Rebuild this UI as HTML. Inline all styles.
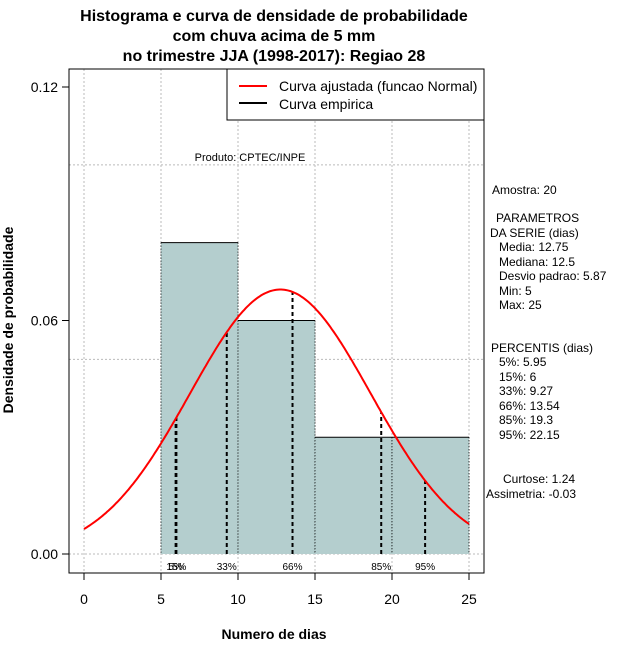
<!DOCTYPE html>
<html><head><meta charset="utf-8"><style>
body{margin:0;background:#fff;}
svg text{font-family:"Liberation Sans",sans-serif;}
</style></head><body>
<svg id="chart" width="640" height="660" xmlns="http://www.w3.org/2000/svg">
<text x="274" y="21" text-anchor="middle" font-size="16" font-weight="bold">Histograma e curva de densidade de probabilidade</text>
<text x="274" y="41" text-anchor="middle" font-size="16" font-weight="bold">com chuva acima de 5 mm</text>
<text x="274" y="61" text-anchor="middle" font-size="16" font-weight="bold">no trimestre JJA (1998-2017): Regiao 28</text>
<g id="grid"></g>
<g id="bars"></g>
<g id="pct"></g>
<g id="curve"></g>
<rect x="69" y="69" width="415" height="504" fill="none" stroke="#000"/>
<g id="axes"></g>
<text x="250" y="161" text-anchor="middle" font-size="11">Produto: CPTEC/INPE</text>
<g>
<rect x="227" y="69" width="257" height="51" fill="#fff" stroke="#000"/>
<line x1="239" y1="86" x2="267" y2="86" stroke="red" stroke-width="2"/>
<text x="279" y="91" font-size="14">Curva ajustada (funcao Normal)</text>
<line x1="239" y1="103" x2="267" y2="103" stroke="#000" stroke-width="2"/>
<text x="279" y="109" font-size="14">Curva empirica</text>
</g>
<text x="274" y="639" text-anchor="middle" font-size="14" font-weight="bold">Numero de dias</text>
<text transform="translate(13,320) rotate(-90)" text-anchor="middle" font-size="14" font-weight="bold">Densidade de probabilidade</text>
<g font-size="12">
<text x="492" y="194">Amostra: 20</text>
<text x="496" y="222">PARAMETROS</text>
<text x="490" y="237">DA SERIE (dias)</text>
<text x="499" y="251">Media: 12.75</text>
<text x="499" y="266">Mediana: 12.5</text>
<text x="499" y="280">Desvio padrao: 5.87</text>
<text x="499" y="295">Min: 5</text>
<text x="499" y="309">Max: 25</text>
<text x="491" y="352">PERCENTIS (dias)</text>
<text x="499" y="366">5%: 5.95</text>
<text x="499" y="381">15%: 6</text>
<text x="499" y="395">33%: 9.27</text>
<text x="499" y="410">66%: 13.54</text>
<text x="499" y="424">85%: 19.3</text>
<text x="499" y="439">95%: 22.15</text>
<text x="503" y="483">Curtose: 1.24</text>
<text x="486" y="498">Assimetria: -0.03</text>
</g>
</svg>
<script>
const binEdges=[5,10,15,20,25];
const binDensity=[0.08,0.06,0.03,0.03];
const pctLabels=["5%","15%","33%","66%","85%","95%"];
const pctValues=[5.95,6,9.27,13.54,19.3,22.15];
const xTicks=[0,5,10,15,20,25];
const yTicks=[0,0.06,0.12];
const yTickLabels=["0.00","0.06","0.12"];
const yGrid=[0,0.05,0.1];
const mean=12.75, sd=5.87;
const NS="http://www.w3.org/2000/svg";
const X=v=>84+v*(469-84)/25;
const Y=v=>554-v*(554-87)/0.12;
function mk(t,a,p){const e=document.createElementNS(NS,t);for(const k in a)e.setAttribute(k,a[k]);p.appendChild(e);return e;}
const dn=x=>Math.exp(-0.5*((x-mean)/sd)**2)/(sd*Math.sqrt(2*Math.PI));
const g=document.getElementById('grid');
xTicks.forEach(t=>{const l=mk('line',{x1:X(t),x2:X(t),y1:69,y2:573,stroke:'#bbb','stroke-dasharray':'2,2'},g);

});
yGrid.forEach(t=>{const l=mk('line',{x1:69,x2:484,y1:Y(t),y2:Y(t),stroke:'#bbb','stroke-dasharray':'2,2'},g);

});
const b=document.getElementById('bars');
binDensity.forEach((d,i)=>{const x0=X(binEdges[i]),x1=X(binEdges[i+1]),y=Y(d);
const r=mk('rect',{x:x0,y:y,width:x1-x0,height:Y(0)-y,fill:'#b4cece'},b);


mk('line',{x1:x0,x2:x1,y1:y,y2:y,stroke:'#000'},b);
mk('line',{x1:x0,x2:x0,y1:y,y2:Y(0),stroke:'#000','stroke-dasharray':'1,2'},b);
mk('line',{x1:x1,x2:x1,y1:y,y2:Y(0),stroke:'#000','stroke-dasharray':'1,2'},b);});
const p=document.getElementById('pct');
pctValues.forEach((v,i)=>{const l=mk('line',{x1:X(v),x2:X(v),y1:Y(0),y2:Y(dn(v)),stroke:'#000','stroke-width':2,'stroke-dasharray':'4,3'},p);


const t=mk('text',{x:X(v),y:570,'text-anchor':'middle','font-size':10},p);t.textContent=pctLabels[i];

});
let d='';for(let i=0;i<=250;i++){const x=i*0.1;d+=(i?'L':'M')+X(x).toFixed(1)+','+Y(dn(x)).toFixed(1);}
const c=mk('path',{d:d,fill:'none',stroke:'red','stroke-width':2},document.getElementById('curve'));


const a=document.getElementById('axes');
xTicks.forEach(t=>{mk('line',{x1:X(t),x2:X(t),y1:573,y2:580,stroke:'#000'},a);
const e=mk('text',{x:X(t),y:604,'text-anchor':'middle','font-size':14},a);e.textContent=t;

});
yTicks.forEach((t,i)=>{mk('line',{x1:62,x2:69,y1:Y(t),y2:Y(t),stroke:'#000'},a);
const e=mk('text',{x:58,y:Y(t)+5,'text-anchor':'end','font-size':14},a);e.textContent=yTickLabels[i];

});
</script>
</body></html>
